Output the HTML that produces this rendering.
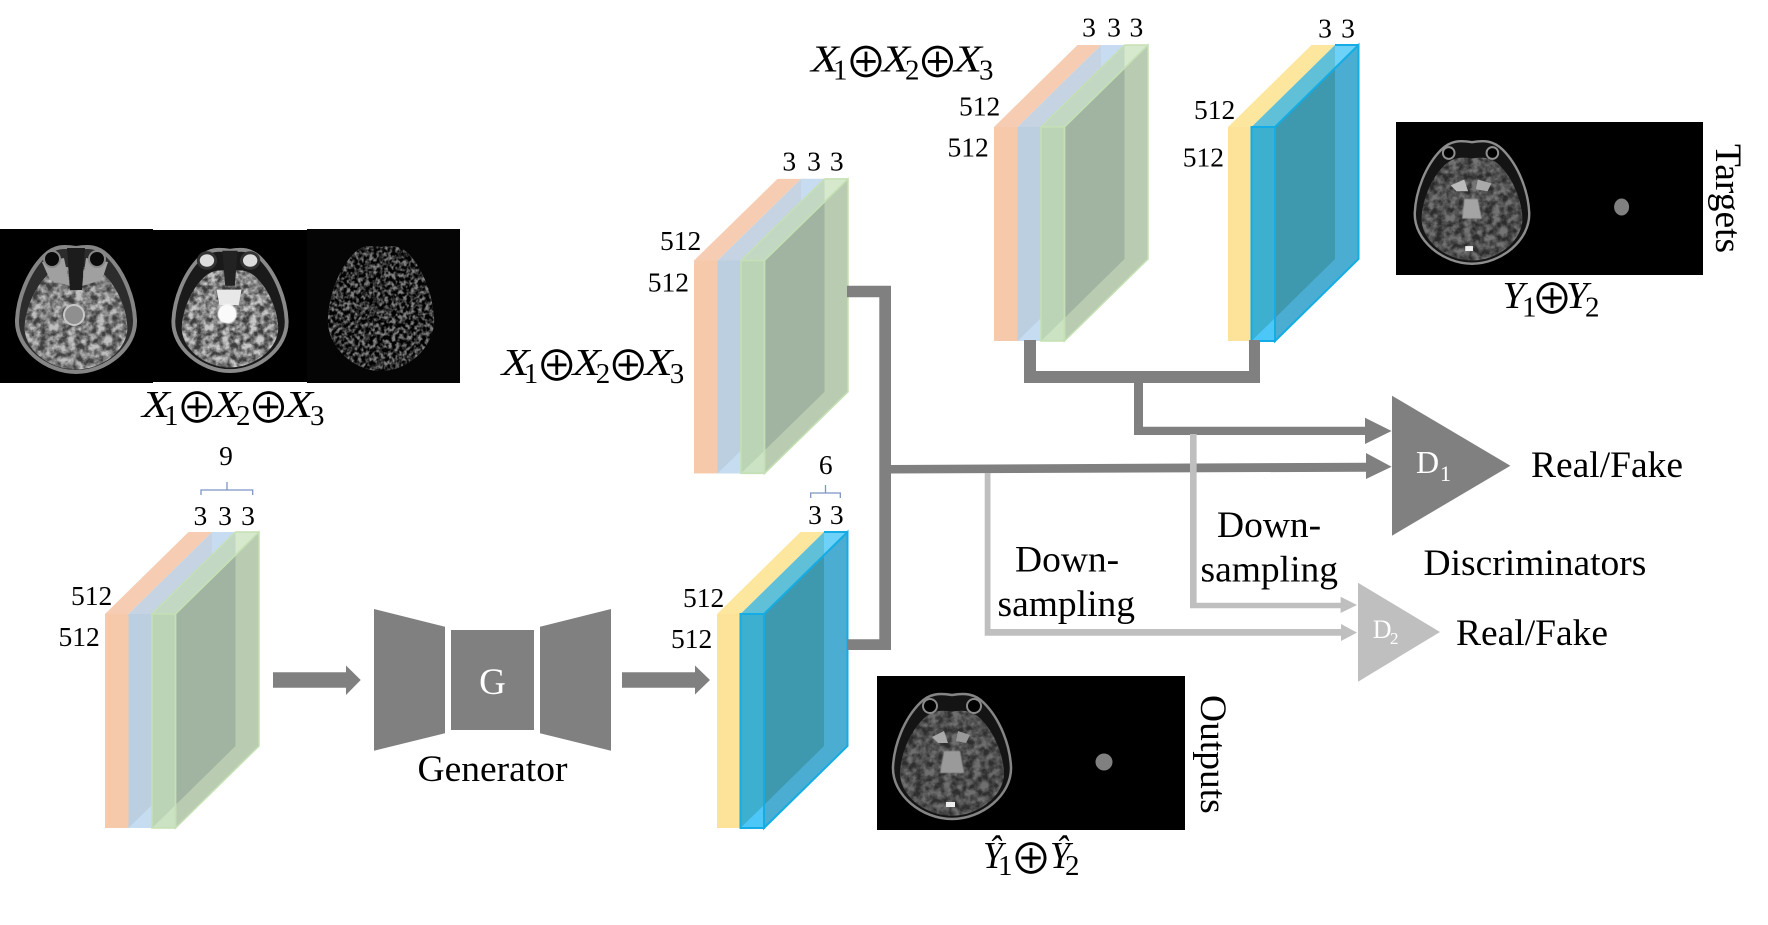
<!DOCTYPE html>
<html>
<head>
<meta charset="utf-8">
<title>Generator and Discriminators diagram</title>
<style>
html,body{margin:0;padding:0;background:#fff;width:1768px;height:925px;overflow:hidden}
svg{display:block}
text{font-family:"Liberation Serif",serif;fill:#000}
.n{font-size:27.5px}
.m{text-anchor:middle}
.t{font-size:37.5px}
.x{font-size:38px;font-style:italic}
.s{font-size:29px}
.o{font-family:"Noto Sans CJK JP",sans-serif;font-size:42px;text-anchor:middle}
</style>
</head>
<body>
<svg width="1768" height="925" viewBox="0 0 1768 925" xmlns="http://www.w3.org/2000/svg">
<defs>
<filter id="gy" x="0" y="0" width="100%" height="100%" color-interpolation-filters="sRGB">
<feTurbulence type="fractalNoise" baseFrequency=".12" numOctaves="3" seed="4" result="n"/>
<feColorMatrix in="n" type="matrix" values="2.4 0 0 0 -.7  2.4 0 0 0 -.7  2.4 0 0 0 -.7  0 0 0 0 1" result="c"/>
<feComposite in="c" in2="SourceAlpha" operator="in"/>
</filter>
<filter id="ns" x="0" y="0" width="100%" height="100%" color-interpolation-filters="sRGB">
<feTurbulence type="fractalNoise" baseFrequency=".24" numOctaves="2" seed="9" result="n"/>
<feColorMatrix in="n" type="matrix" values="3 0 0 0 -1.15  3 0 0 0 -1.15  3 0 0 0 -1.15  0 0 0 0 1" result="c"/>
<feComposite in="c" in2="SourceAlpha" operator="in"/>
</filter>
<filter id="bl2"><feGaussianBlur stdDeviation=".5"/></filter>

<path id="head" d="M0,-60 C-12,-62 -22,-62 -32,-52 C-48,-36 -58,-10 -59,12 C-60,40 -30,64 0,64 C30,64 60,40 59,12 C58,-10 48,-36 32,-52 C22,-62 12,-62 0,-60 Z"/>

<g id="rgb">
<rect x="0" y="0" width="23.5" height="214" fill="#f6c9ab"/>
<polygon points="0,0 23.5,0 107,-82 83.5,-82" fill="#f6cdb2"/>
<rect x="23.5" y="0" width="23.5" height="214" fill="#bccfe1"/>
<polygon points="23.5,0 47,0 130.5,-82 107,-82" fill="#c5d3e2"/>
<polygon points="107,-82 130.5,-82 107,-58" fill="#c7dcf1"/>
<polygon points="23.5,214 47,214 47,191" fill="#c5dcf1"/>
<polygon points="70.5,0 154,-82 154,132 70.5,214" fill="#b9ccb1"/>
<polygon points="70.5,0 130.5,-58 130.5,132 70.5,191" fill="#a0b4a1"/>
<polygon points="47,0 70.5,0 154,-82 130.5,-82" fill="#c3d8c3"/>
<polygon points="130.5,-82 154,-82 130.5,-58" fill="#d6e9cd"/>
<rect x="47" y="0" width="23.5" height="214" fill="#bbd4b6"/>
<polygon points="47,214 70.5,214 70.5,191" fill="#cbe2c3"/>
<polygon points="47,0 70.5,0 70.5,214 47,214" fill="none" stroke="#c5e0b4" stroke-width="1.5"/>
<polygon points="70.5,0 154,-82 154,132 70.5,214" fill="none" stroke="#c5e0b4" stroke-width="1.5"/>
<path d="M47,0 L130.5,-82" fill="none" stroke="#c5e0b4" stroke-width="1.5"/>
<path d="M130.5,-82 H154" fill="none" stroke="#c5e0b4" stroke-width="1.5"/>
</g>

<g id="yb">
<rect x="0" y="0" width="23.5" height="214" fill="#fde39a"/>
<polygon points="0,0 23.5,0 107,-82 83.5,-82" fill="#fde79f"/>
<polygon points="47,0 130.5,-82 130.5,132 47,214" fill="#4cadd3"/>
<polygon points="47,0 107,-59 107,132 47,191" fill="#3f99ae"/>
<polygon points="23.5,0 47,0 130.5,-82 107,-82" fill="#5fc0d8"/>
<polygon points="107,-82 130.5,-82 107,-58" fill="#6ed2f8"/>
<rect x="23.5" y="0" width="23.5" height="214" fill="#3db0d0"/>
<polygon points="23.5,214 47,214 47,191" fill="#4cc7f7"/>
<polygon points="23.5,0 47,0 47,214 23.5,214" fill="none" stroke="#14ace4" stroke-width="2"/>
<polygon points="47,0 130.5,-82 130.5,132 47,214" fill="none" stroke="#14ace4" stroke-width="2"/>
<path d="M107,-82 H130.5" fill="none" stroke="#14ace4" stroke-width="2"/>
</g>
</defs>

<!-- top-left MRI panels -->
<rect x="0" y="229" width="153" height="154" fill="#000"/>
<rect x="153" y="230" width="154" height="152" fill="#000"/>
<rect x="307" y="229" width="153" height="154" fill="#050505"/>

<g transform="translate(76,308)">
<use href="#head" fill="#2c2c2c" stroke="#858585" stroke-width="4"/>
<g transform="translate(0,9) scale(.87,.82)">
<use href="#head" fill="#808080"/>
<use href="#head" fill="#fff" filter="url(#gy)" opacity=".5"/>
</g>
<path d="M-34,-46 L-12,-50 L-6,-22 L-26,-28 Z" fill="#a0a0a0"/>
<path d="M32,-46 L10,-50 L6,-22 L26,-28 Z" fill="#a0a0a0"/>
<circle cx="-24" cy="-49" r="8" fill="#0a0a0a" stroke="#888" stroke-width="2"/>
<circle cx="21" cy="-49" r="8" fill="#0a0a0a" stroke="#888" stroke-width="2"/>
<path d="M-9,-60 L9,-60 L6,-18 L-6,-18 Z" fill="#1c1c1c"/>
<circle cx="-2" cy="7" r="10" fill="#8f8f8f" stroke="#c8c8c8" stroke-width="2"/>
</g>

<g transform="translate(230,309) scale(.96,.97)">
<use href="#head" fill="#1a1a1a" stroke="#8a8a8a" stroke-width="4"/>
<g transform="translate(0,9) scale(.85,.8)">
<use href="#head" fill="#868686"/>
<use href="#head" fill="#fff" filter="url(#gy)" opacity=".55"/>
</g>
<ellipse cx="-24" cy="-50" rx="9" ry="8" fill="#ddd" stroke="#333" stroke-width="3"/>
<ellipse cx="21" cy="-50" rx="9" ry="8" fill="#ddd" stroke="#333" stroke-width="3"/>
<path d="M-8,-60 L8,-60 L5,-24 L-5,-24 Z" fill="#222"/>
<path d="M-14,-20 L12,-20 L9,-4 L-11,-4 Z" fill="#e8e8e8"/>
<circle cx="-3" cy="5" r="10" fill="#fafafa" filter="url(#bl2)"/>
</g>

<g transform="translate(381,307) scale(.9,1)" opacity=".5">
<use href="#head" fill="#777"/>
<use href="#head" fill="#fff" filter="url(#ns)"/>
</g>

<!-- formula 1 -->
<text class="x" x="142" y="417" textLength="28" lengthAdjust="spacingAndGlyphs">X</text>
<text class="s" x="164" y="425">1</text>
<text class="o" x="197" y="423">⊕</text>
<text class="x" x="213" y="417" textLength="28" lengthAdjust="spacingAndGlyphs">X</text>
<text class="s" x="236" y="425">2</text>
<text class="o" x="268.500" y="423">⊕</text>
<text class="x" x="285" y="417" textLength="28" lengthAdjust="spacingAndGlyphs">X</text>
<text class="s" x="310" y="425">3</text>

<!-- Stack 1 -->
<use href="#rgb" transform="translate(105,614)"/>
<text class="n" x="71" y="605">512</text>
<text class="n" x="58.500" y="646">512</text>
<text class="n m" x="200.400" y="525">3</text>
<text class="n m" x="225" y="525">3</text>
<text class="n m" x="248" y="525">3</text>
<text class="n m" x="226" y="465">9</text>
<path d="M201,495 V490 H252.700 V495 M227,490 V482" fill="none" stroke="#7c95c4" stroke-width="1.300"/>

<!-- Arrows + generator -->
<polygon points="273,672.300 346,672.300 346,665.500 360.700,680 346,695 346,687.700 273,687.700" fill="#808080"/>
<polygon points="374,609 445,626.700 445,733.300 374,750.700" fill="#808080"/>
<rect x="451" y="630" width="83" height="100" fill="#808080"/>
<polygon points="611,609 540,626.700 540,733.300 611,750.700" fill="#808080"/>
<text class="m" x="492.500" y="694" style="font-size:37px;fill:#fff">G</text>
<text class="t m" x="492.500" y="781">Generator</text>
<polygon points="622,672.300 695,672.300 695,665.500 710,680 695,694.500 695,687.700 622,687.700" fill="#808080"/>

<!-- Stack 2 -->
<use href="#rgb" transform="translate(694,260.500) scale(1,.995)"/>
<text class="n" x="660" y="250">512</text>
<text class="n" x="647.700" y="291.700">512</text>
<text class="n m" x="789.300" y="170.700">3</text>
<text class="n m" x="814" y="170.700">3</text>
<text class="n m" x="836.700" y="170.700">3</text>
<text class="x" x="501.700" y="375" textLength="28" lengthAdjust="spacingAndGlyphs">X</text>
<text class="s" x="523.700" y="383">1</text>
<text class="o" x="556.700" y="381">⊕</text>
<text class="x" x="572.700" y="375" textLength="28" lengthAdjust="spacingAndGlyphs">X</text>
<text class="s" x="595.700" y="383">2</text>
<text class="o" x="628.200" y="381">⊕</text>
<text class="x" x="644.700" y="375" textLength="28" lengthAdjust="spacingAndGlyphs">X</text>
<text class="s" x="669.700" y="383">3</text>

<!-- Stack 5 (blue lower) -->
<use href="#yb" transform="translate(717,614)"/>
<text class="n" x="683" y="607">512</text>
<text class="n" x="671" y="648">512</text>
<text class="n m" x="815" y="524">3</text>
<text class="n m" x="836.700" y="524">3</text>
<text class="n m" x="825.700" y="474">6</text>
<path d="M810.700,498 V493 H840.300 V498 M825.500,493 V485" fill="none" stroke="#7c95c4" stroke-width="1.300"/>

<!-- Stack 3 -->
<use href="#rgb" transform="translate(994,127)"/>
<text class="n" x="959" y="115.700">512</text>
<text class="n" x="947.500" y="156.700">512</text>
<text class="n m" x="1089" y="36.700">3</text>
<text class="n m" x="1114" y="36.700">3</text>
<text class="n m" x="1136.400" y="36.700">3</text>
<text class="x" x="811" y="71.700" textLength="28" lengthAdjust="spacingAndGlyphs">X</text>
<text class="s" x="833" y="79.700">1</text>
<text class="o" x="866" y="77.700">⊕</text>
<text class="x" x="882" y="71.700" textLength="28" lengthAdjust="spacingAndGlyphs">X</text>
<text class="s" x="905" y="79.700">2</text>
<text class="o" x="937.500" y="77.700">⊕</text>
<text class="x" x="954" y="71.700" textLength="28" lengthAdjust="spacingAndGlyphs">X</text>
<text class="s" x="979" y="79.700">3</text>

<!-- Stack 4 -->
<use href="#yb" transform="translate(1228,127)"/>
<text class="n" x="1194" y="119">512</text>
<text class="n" x="1182.700" y="166.700">512</text>
<text class="n m" x="1325" y="37.700">3</text>
<text class="n m" x="1348" y="37.700">3</text>

<!-- Targets panel -->
<rect x="1396" y="122" width="307" height="153" fill="#000"/>
<g transform="translate(1472,201) scale(.97,.98)">
<use href="#head" fill="#141414" stroke="#8d8d8d" stroke-width="2.500"/>
<g transform="translate(0,7) scale(.88,.84)">
<use href="#head" fill="#3e3e3e"/>
<use href="#head" fill="#fff" filter="url(#gy)" opacity=".28"/>
</g>
<circle cx="-24" cy="-49" r="6" fill="#000" stroke="#909090" stroke-width="2"/>
<circle cx="21" cy="-49" r="6" fill="#000" stroke="#909090" stroke-width="2"/>
<path d="M-22,-16 L-8,-22 L-4,-10 L-16,-10 Z" fill="#bbb"/>
<path d="M20,-18 L6,-22 L4,-12 L16,-10 Z" fill="#aaa"/>
<path d="M-8,-2 L6,-2 L10,18 L-10,18 Z" fill="#a4a4a4" filter="url(#bl2)"/>
<rect x="-7" y="46" width="8" height="5" fill="#eee"/>
</g>
<ellipse cx="1621.600" cy="207" rx="7.500" ry="8.500" fill="#808080"/>
<text class="t" transform="translate(1716,144) rotate(90)">Targets</text>
<text class="x" x="1502.500" y="308" textLength="22" lengthAdjust="spacingAndGlyphs">Y</text>
<text class="s" x="1522" y="316.700">1</text>
<text class="o" x="1552" y="314">⊕</text>
<text class="x" x="1566" y="308" textLength="22" lengthAdjust="spacingAndGlyphs">Y</text>
<text class="s" x="1585" y="316.700">2</text>

<!-- Outputs panel -->
<rect x="877" y="676" width="308" height="154" fill="#000"/>
<g transform="translate(952,755)">
<use href="#head" fill="#141414" stroke="#858585" stroke-width="2.500"/>
<g transform="translate(0,7) scale(.88,.84)">
<use href="#head" fill="#3e3e3e"/>
<use href="#head" fill="#fff" filter="url(#gy)" opacity=".25"/>
</g>
<circle cx="-22" cy="-49" r="7" fill="#000" stroke="#8a8a8a" stroke-width="2"/>
<circle cx="22" cy="-49" r="7" fill="#000" stroke="#8a8a8a" stroke-width="2"/>
<path d="M-20,-18 L-8,-24 L-4,-12 L-14,-12 Z" fill="#aaa"/>
<path d="M18,-20 L6,-24 L4,-14 L14,-12 Z" fill="#999"/>
<path d="M-8,-4 L8,-4 L12,18 L-12,18 Z" fill="#9a9a9a" filter="url(#bl2)"/>
<rect x="-6" y="47" width="9" height="5" fill="#eee"/>
</g>
<ellipse cx="1104" cy="762" rx="8.500" ry="8.500" fill="#808080"/>
<text class="t" transform="translate(1201,695) rotate(90)">Outputs</text>
<text class="x" x="983" y="868" textLength="20" lengthAdjust="spacingAndGlyphs">Ŷ</text>
<text class="s" x="998" y="875">1</text>
<text class="o" x="1031" y="874">⊕</text>
<text class="x" x="1050" y="868" textLength="20" lengthAdjust="spacingAndGlyphs">Ŷ</text>
<text class="s" x="1065" y="875">2</text>

<!-- Connectors (dark) -->
<path d="M847,285.700 H891 V650 H847 V639.300 H879.300 V297.300 H847 Z" fill="#808080"/>
<polygon points="891,465 1366,462.700 1366,453 1391.600,466.700 1366,479 1366,471.700 891,473.500" fill="#808080"/>
<path d="M1024,340 H1036 V371 H1249 V340 H1260 V383 H1143 V426.700 H1365 V417.700 L1391.600,431 L1365,444 V435 H1134 V383 H1024 Z" fill="#808080"/>

<!-- Connectors (light) -->
<path d="M1190,434 H1196.600 V602.700 H1340.600 V596.700 L1357,605 L1340.600,613 V608.300 H1190 Z" fill="#bfbfbf"/>
<path d="M984.700,473 H990.500 V629 H1341 V624 L1357,632.600 L1341,641 V635.700 H984.700 Z" fill="#bfbfbf"/>

<!-- Discriminators -->
<polygon points="1392,395.700 1510.400,465.700 1392,535.700" fill="#808080"/>
<text x="1416" y="473" style="font-size:32px;fill:#fff">D</text>
<text x="1440" y="481" style="font-size:22px;fill:#fff">1</text>
<polygon points="1358,582.700 1440,632 1358,681.700" fill="#bfbfbf"/>
<text x="1372.800" y="638" style="font-size:26px;fill:#fff">D</text>
<text x="1390" y="644" style="font-size:17px;fill:#fff">2</text>

<text class="t" x="1531" y="477">Real/Fake</text>
<text class="t" x="1456" y="645">Real/Fake</text>
<text class="t" x="1423.500" y="575">Discriminators</text>
<text class="t" x="1217" y="537">Down-</text>
<text class="t" x="1200.500" y="581.700">sampling</text>
<text class="t" x="1015" y="571.700">Down-</text>
<text class="t" x="997.500" y="616">sampling</text>
</svg>
</body>
</html>
